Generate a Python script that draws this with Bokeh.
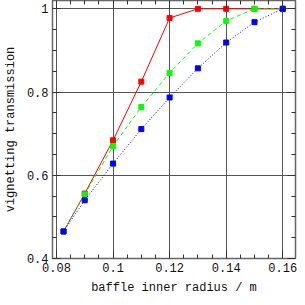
from bokeh.plotting import figure
from bokeh.models import FixedTicker, LinearAxis, CustomJSTickFormatter, Range1d
from bokeh.embed import file_html
from bokeh.resources import INLINE

radius = [0.0825, 0.09, 0.10, 0.11, 0.12, 0.13, 0.14, 0.15, 0.16]
red_vals = [0.465, 0.556, 0.684, 0.825, 0.978, 1.0, 1.0, 1.0, 1.0]
green_vals = [0.465, 0.554, 0.670, 0.764, 0.846, 0.917, 0.971, 1.0, 1.0]
blue_vals = [0.465, 0.540, 0.628, 0.711, 0.787, 0.857, 0.919, 0.968, 1.0]

x_ticks = [0.08, 0.1, 0.12, 0.14, 0.16]
x_minor = [0.085, 0.09, 0.095, 0.105, 0.11, 0.115, 0.125, 0.13, 0.135, 0.145, 0.15, 0.155]
y_ticks = [0.4, 0.6, 0.8, 1.0]
y_minor = [0.45, 0.5, 0.55, 0.65, 0.7, 0.75, 0.85, 0.9, 0.95]

FONT = "Liberation Mono"

p = figure(width=297, height=297, output_backend="svg", toolbar_location=None,
           x_range=Range1d(0.0786, 0.1645), y_range=Range1d(0.4, 1.02),
           x_axis_location=None, y_axis_location=None)
p.min_border_left = 0
p.min_border_right = 2
p.min_border_top = 0
p.min_border_bottom = 0
p.background_fill_color = "white"
p.border_fill_color = "white"
p.outline_line_color = "#666666"
p.outline_line_width = 1.5

fmt = CustomJSTickFormatter(code="return String(tick)")
blank = CustomJSTickFormatter(code="return ''")

def make_axis(ticks, minor, labels, title=None):
    ax = LinearAxis(ticker=FixedTicker(ticks=ticks, minor_ticks=minor))
    ax.formatter = fmt if labels else blank
    ax.axis_line_color = None
    ax.major_tick_in = 8
    ax.major_tick_out = 0
    ax.minor_tick_in = 4
    ax.minor_tick_out = 0
    ax.major_tick_line_color = "#333333"
    ax.minor_tick_line_color = "#333333"
    ax.major_label_text_font = FONT
    ax.major_label_text_color = "#111111"
    ax.major_label_text_font_size = "12px"
    ax.major_label_standoff = 4 if labels else 0
    if title:
        ax.axis_label = title
        ax.axis_label_text_font = FONT
        ax.axis_label_text_font_size = "12px"
        ax.axis_label_text_font_style = "normal"
        ax.axis_label_text_color = "#111111"
        ax.axis_label_standoff = 6
    return ax

p.add_layout(make_axis(x_ticks, x_minor, True, "baffle inner radius / m"), "below")
p.add_layout(make_axis(y_ticks, y_minor, True, "vignetting transmission"), "left")
p.add_layout(make_axis(x_ticks, x_minor, False), "above")
p.add_layout(make_axis(y_ticks, y_minor, False), "right")

p.xgrid.ticker = FixedTicker(ticks=x_ticks)
p.ygrid.ticker = FixedTicker(ticks=y_ticks)
p.xgrid.grid_line_color = "#555555"
p.ygrid.grid_line_color = "#555555"
p.xgrid.grid_line_width = 1
p.ygrid.grid_line_width = 1

p.line(radius, red_vals, line_color="#ff0000", line_width=1)
p.scatter(radius, red_vals, marker="square", size=5, color="#ff0000")
p.line(radius, green_vals, line_color="#00ff00", line_width=1, line_dash="4 3")
p.scatter(radius, green_vals, marker="square", size=5, color="#00ff00")
p.line(radius, blue_vals, line_color="#0000ff", line_width=1, line_dash="1 2")
p.scatter(radius, blue_vals, marker="square", size=5, color="#0000ff")

open("out.html", "w").write(file_html(p, INLINE))
